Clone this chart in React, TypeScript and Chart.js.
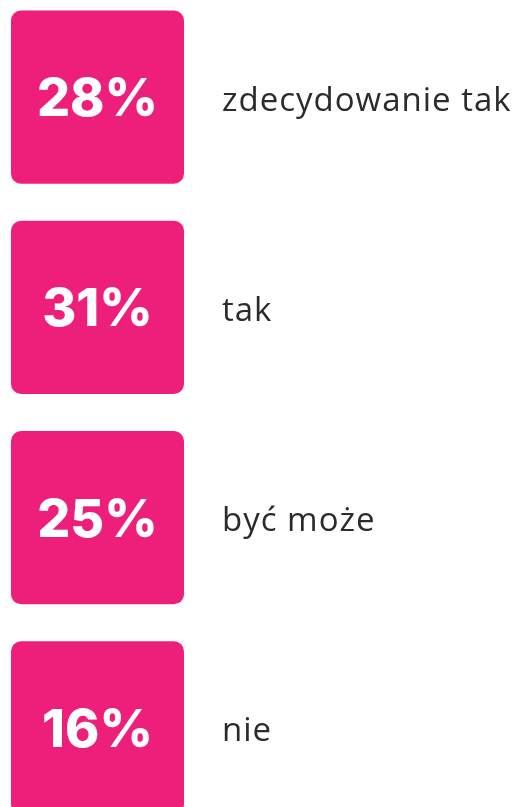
import React, { useEffect, useRef } from "react";
import { Chart, registerables } from "chart.js";

Chart.register(...registerables);

const categories = ["zdecydowanie tak", "tak", "być może", "nie"];
const values = [28, 31, 25, 16];

const PINK = "#EE1F7B";

export default function App() {
  const ref = useRef<HTMLCanvasElement | null>(null);

  useEffect(() => {
    document.body.style.margin = "0";
    const canvas = ref.current!;
    const valuePlugin = {
      id: "valueLabels",
      beforeDraw(chart: any) {
        (chart.ctx as any).letterSpacing = "1px";
      },
      afterDatasetsDraw(chart: any) {
        const ctx = chart.ctx;
        const meta = chart.getDatasetMeta(0);
        ctx.save();
        (ctx as any).letterSpacing = "0px";
        ctx.fillStyle = "#ffffff";
        ctx.font = "800 52px Inter";
        ctx.textAlign = "center";
        ctx.textBaseline = "alphabetic";
        meta.data.forEach((el: any, i: number) => {
          const c = el.getCenterPoint();
          ctx.fillText(values[i] + "%", c.x, c.y + 19);
        });
        ctx.restore();
      },
    };
    const chart = new Chart(canvas, {
      type: "bar",
      data: {
        labels: categories,
        datasets: [
          {
            data: values.map(() => [0, 1]) as any,
            backgroundColor: PINK,
            borderRadius: 10,
            borderSkipped: false,
            categoryPercentage: 1,
            barPercentage: 0.823,
          },
        ],
      },
      options: {
        indexAxis: "y",
        animation: false,
        responsive: false,
        maintainAspectRatio: false,
        layout: { padding: { left: 11, top: 0, bottom: 0, right: 0 } },
        plugins: { legend: { display: false }, tooltip: { enabled: false } },
        scales: {
          x: { display: false, min: 0, max: 1 },
          y: {
            position: "right",
            grid: { display: false, drawTicks: false },
            border: { display: false },
            ticks: {
              padding: 38,
              labelOffset: 4,
              color: "#2b2b2b",
              font: { family: "'Open Sans'", size: 33, weight: "normal" },
            },
            afterFit: (axis: any) => {
              axis.width = 332;
              axis.paddingTop = 0;
              axis.paddingBottom = 0;
            },
          },
        },
      },
      plugins: [valuePlugin],
    });
    return () => chart.destroy();
  }, []);

  return (
    <div style={{ position: "absolute", top: -8, left: 0, width: 516, height: 841 }}>
      <canvas ref={ref} width={516} height={841} style={{ display: "block" }} />
    </div>
  );
}
